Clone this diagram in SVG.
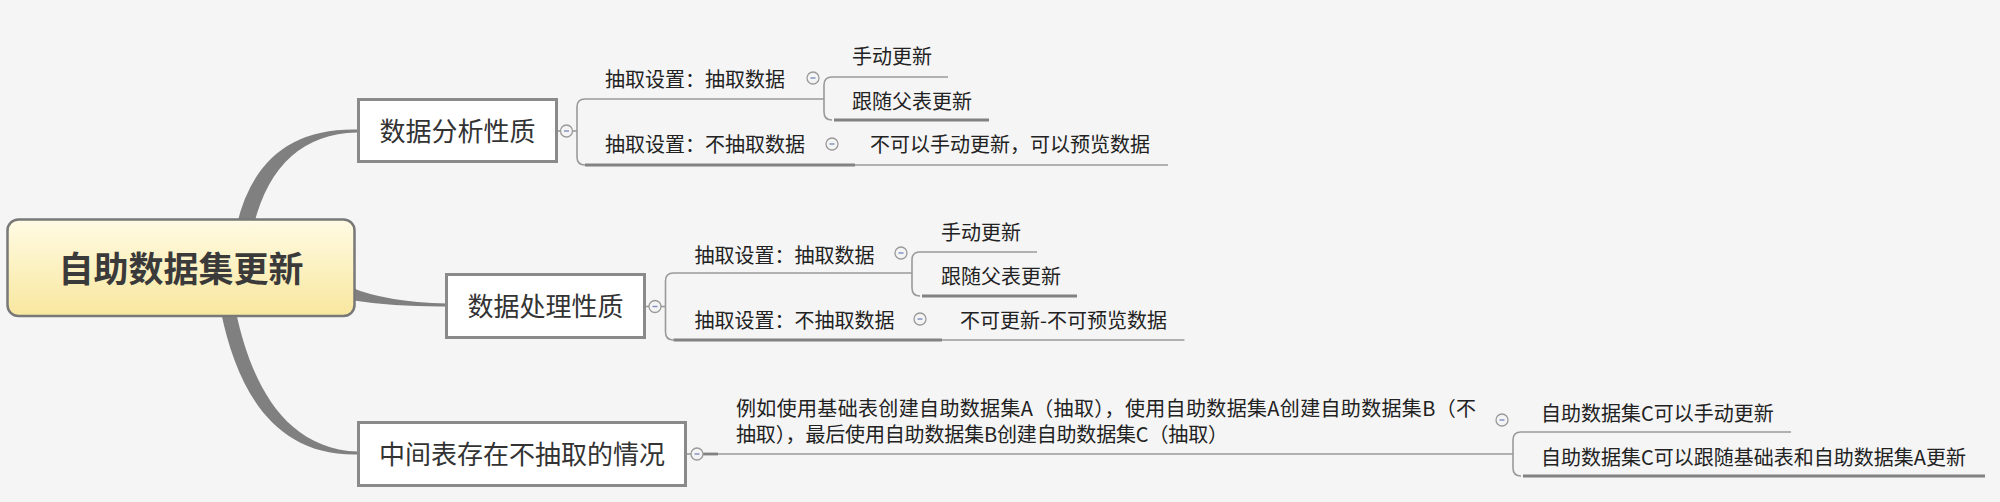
<svg xmlns="http://www.w3.org/2000/svg" width="2000" height="502" viewBox="0 0 2000 502">
  <defs>
    <linearGradient id="rootFill" x1="0" y1="0" x2="0" y2="1">
      <stop offset="0" stop-color="#fffbe4"/>
      <stop offset="1" stop-color="#f8e79e"/>
    </linearGradient>
    <g id="collapse">
      <circle cx="0" cy="0" r="6" fill="#f4f4f4" stroke="#9a9a9a" stroke-width="1.3"/>
      <line x1="-2.5" y1="0" x2="2.5" y2="0" stroke="#7d8dc0" stroke-width="1.4"/>
    </g>
  </defs>
  <style>
    text { font-family: "Noto Sans CJK SC", "Noto Sans", sans-serif; }
    .root-text { font-size: 35px; font-weight: bold; fill: #3a3a3a; text-anchor: middle; }
    .main-box { fill: #ffffff; stroke: #8a8a8a; stroke-width: 3; }
    .main-text { font-size: 26px; fill: #333333; text-anchor: middle; }
    .sub-text { font-size: 20px; fill: #222222; }
    .branch { fill: #808080; stroke: none; }
    .thin { fill: none; stroke: #9a9a9a; stroke-width: 1.6; }
    .thick { fill: none; stroke: #828282; stroke-width: 2.8; }
  </style>
  <rect x="0" y="0" width="2000" height="502" fill="#f5f5f5"/>

  <g id="connectors">
    <!-- root branches -->
    <path class="branch" d="M 237 224 Q 260 127.5 357 129.5 L 357 132.5 Q 277 134.5 254 224 Z"/>
    <path class="branch" d="M 350 287 Q 385 302 447 303.5 L 447 306.5 Q 395 307 350 300 Z"/>
    <path class="branch" d="M 221 312 C 236 384 270 456.5 358 454.5 L 358 451.5 C 282 449 250 378 236 312 Z"/>

    <!-- node 1 children -->
    <line class="thin" x1="557" y1="131" x2="577" y2="131"/>
    <path class="thin" d="M 824 99 L 585 99 Q 577 99 577 107 L 577 157 Q 577 165 585 165"/>
    <path class="thick" d="M 585 165 L 855 165"/>
    <path class="thin" d="M 855 165 L 1168 165"/>
    <path class="thin" d="M 948 77 L 832 77 Q 824 77 824 85 L 824 112 Q 824 120 832 120"/>
    <path class="thick" d="M 834 120 L 989 120"/>

    <!-- node 2 children -->
    <line class="thin" x1="645" y1="306.5" x2="665.5" y2="306.5"/>
    <path class="thin" d="M 912 273 L 673.5 273 Q 665.5 273 665.5 281 L 665.5 332 Q 665.5 340 673.5 340"/>
    <path class="thick" d="M 673.5 340 L 942 340"/>
    <path class="thin" d="M 942 340 L 1184.5 340"/>
    <path class="thin" d="M 1037 252 L 920 252 Q 912 252 912 260 L 912 288 Q 912 296 920 296"/>
    <path class="thick" d="M 922 296 L 1077 296"/>

    <!-- node 3 children -->
    <line class="thin" x1="686" y1="454" x2="703" y2="454"/>
    <path class="thick" d="M 703 454 L 718 454"/>
    <path class="thin" d="M 718 454 L 1513 454"/>
    <path class="thin" d="M 1791 432 L 1521 432 Q 1513 432 1513 440 L 1513 468 Q 1513 476 1521 476"/>
    <path class="thick" d="M 1523 476 L 1985 476"/>
  </g>

  <g id="root">
    <rect x="7.5" y="219.5" width="347" height="96.5" rx="11" ry="11" fill="url(#rootFill)" stroke="#787878" stroke-width="2.5"/>
    <text class="root-text" x="181" y="282">自助数据集更新</text>
  </g>

  <g id="node-analysis">
    <rect class="main-box" x="358.5" y="99.5" width="198" height="62"/>
    <text class="main-text" x="457.5" y="140.5">数据分析性质</text>
    <use href="#collapse" x="566.5" y="131"/>
  </g>
  <g id="node-analysis-extract">
    <text class="sub-text" x="605" y="87">抽取设置：抽取数据</text>
    <use href="#collapse" x="813" y="78"/>
  </g>
  <g id="node-analysis-extract-manual">
    <text class="sub-text" x="852" y="63.5">手动更新</text>
  </g>
  <g id="node-analysis-extract-follow">
    <text class="sub-text" x="852" y="108.5">跟随父表更新</text>
  </g>
  <g id="node-analysis-noextract">
    <text class="sub-text" x="605" y="152">抽取设置：不抽取数据</text>
    <use href="#collapse" x="832" y="144"/>
  </g>
  <g id="node-analysis-noextract-leaf">
    <text class="sub-text" x="870" y="152">不可以手动更新，可以预览数据</text>
  </g>

  <g id="node-processing">
    <rect class="main-box" x="446.5" y="274.5" width="198" height="63"/>
    <text class="main-text" x="545.5" y="316">数据处理性质</text>
    <use href="#collapse" x="655" y="306.5"/>
  </g>
  <g id="node-processing-extract">
    <text class="sub-text" x="694.5" y="262.5">抽取设置：抽取数据</text>
    <use href="#collapse" x="901" y="253"/>
  </g>
  <g id="node-processing-extract-manual">
    <text class="sub-text" x="941" y="239.5">手动更新</text>
  </g>
  <g id="node-processing-extract-follow">
    <text class="sub-text" x="941" y="284">跟随父表更新</text>
  </g>
  <g id="node-processing-noextract">
    <text class="sub-text" x="694.5" y="328">抽取设置：不抽取数据</text>
    <use href="#collapse" x="920" y="319"/>
  </g>
  <g id="node-processing-noextract-leaf">
    <text class="sub-text" x="960" y="328">不可更新-不可预览数据</text>
  </g>

  <g id="node-intermediate">
    <rect class="main-box" x="358.5" y="422.5" width="327" height="63"/>
    <text class="main-text" x="522" y="464">中间表存在不抽取的情况</text>
    <use href="#collapse" x="697" y="454"/>
  </g>
  <g id="node-intermediate-example">
    <text class="sub-text" x="736" y="415.5" textLength="740" lengthAdjust="spacing">例如使用基础表创建自助数据集A（抽取），使用自助数据集A创建自助数据集B（不</text>
    <text class="sub-text" x="736" y="441.5" textLength="492" lengthAdjust="spacing">抽取），最后使用自助数据集B创建自助数据集C（抽取）</text>
    <use href="#collapse" x="1502" y="420"/>
  </g>
  <g id="node-intermediate-manual">
    <text class="sub-text" x="1541" y="421">自助数据集C可以手动更新</text>
  </g>
  <g id="node-intermediate-follow">
    <text class="sub-text" x="1541" y="464.5">自助数据集C可以跟随基础表和自助数据集A更新</text>
  </g>
</svg>
